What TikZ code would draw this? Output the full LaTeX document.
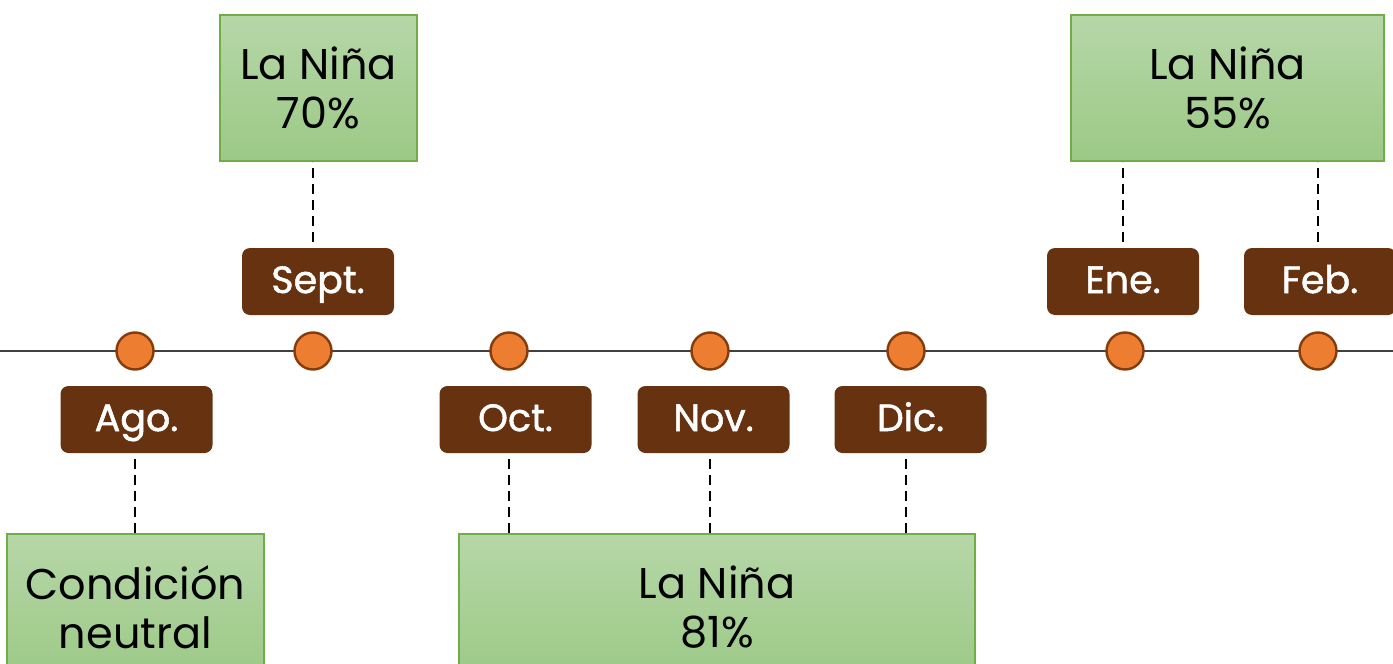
\documentclass[tikz,border=0pt]{standalone}
\usepackage{fontspec}
\setmainfont{Poppins}
\newfontfamily\monthfont{Poppins}[FakeBold=1.3]
\usetikzlibrary{shadings}
\definecolor{brownbox}{HTML}{663210}
\definecolor{dotfill}{HTML}{ED7D31}
\definecolor{dotline}{HTML}{843C0C}
\definecolor{gtop}{HTML}{B6D7A8}
\definecolor{gbot}{HTML}{9CC986}
\definecolor{gline}{HTML}{70AD47}
\definecolor{axis}{HTML}{404040}
\begin{document}
\begin{tikzpicture}[x=0.5pt,y=-0.5pt,
  monthbox/.style={fill=brownbox, draw=none, rounded corners=4pt, minimum width=76pt, minimum height=33.5pt, inner sep=0pt, text=white, text height=11.5pt, text depth=0pt, font=\monthfont\fontsize{19}{20}\selectfont},
  greenbox/.style={draw=gline, line width=0.6pt, top color=gtop, bottom color=gbot, minimum height=73pt, inner sep=0pt, align=center, font=\fontsize{21.5}{24.5}\selectfont},
  dot/.style={circle, fill=dotfill, draw=dotline, line width=1.2pt, minimum size=18.5pt, inner sep=0pt},
  dashline/.style={black, line width=1.4pt, dash pattern=on 5pt off 3pt},
  axisline/.style={axis, line width=0.9pt}]
\useasboundingbox (0,0) rectangle (1393,664);
% axis
\coordinate (aL) at (0,351);
\coordinate (aR) at (1393,351);
\draw[axisline] (aL) -- (aR);
% dots
\node[dot] (c8) at (135,351) {};
\node[dot] (c9) at (313,351) {};
\node[dot] (c10) at (509,351) {};
\node[dot] (c11) at (710,351) {};
\node[dot] (c12) at (906,351) {};
\node[dot] (c1) at (1125,351) {};
\node[dot] (c2) at (1318,351) {};
% month boxes
\node[monthbox] (m9) at (318,281.5) {Sept.};
\node[monthbox] (m8) at (136.5,419.5) {Ago.};
\node[monthbox] (m10) at (515.5,419.5) {Oct.};
\node[monthbox] (m11) at (713.5,419.5) {Nov.};
\node[monthbox] (m12) at (910.5,419.5) {Dic.};
\node[monthbox] (m1) at (1123,281.5) {Ene.};
\node[monthbox] (m2) at (1320,281.5) {Feb.};
% green boxes
\node[greenbox, minimum width=98.5pt] (g70) at (318.5,88) {La Niña\\70\%};
\node[greenbox, minimum width=156.5pt] (g55) at (1227.5,88) {La Niña\\55\%};
\node[greenbox, minimum width=128.5pt] (gneu) at (135.5,607) {Condición\\neutral};
\node[greenbox, minimum width=258pt] (g81) at (717,607) {La Niña\\81\%};
% dashed connectors
\draw[dashline] (m9.north -| c9) ++(0,-6) -- (g70.south -| c9);
\draw[dashline] (m1.north) ++(0,-6) -- (g55.south -| m1);
\draw[dashline] (m2.north -| c2) ++(0,-6) -- (g55.south -| c2);
\draw[dashline] (m8.south -| c8) ++(0,6) -- (gneu.north -| c8);
\draw[dashline] (m10.south -| c10) ++(0,6) -- (g81.north -| c10);
\draw[dashline] (m11.south -| c11) ++(0,6) -- (g81.north -| c11);
\draw[dashline] (m12.south -| c12) ++(0,6) -- (g81.north -| c12);
\end{tikzpicture}
\end{document}
